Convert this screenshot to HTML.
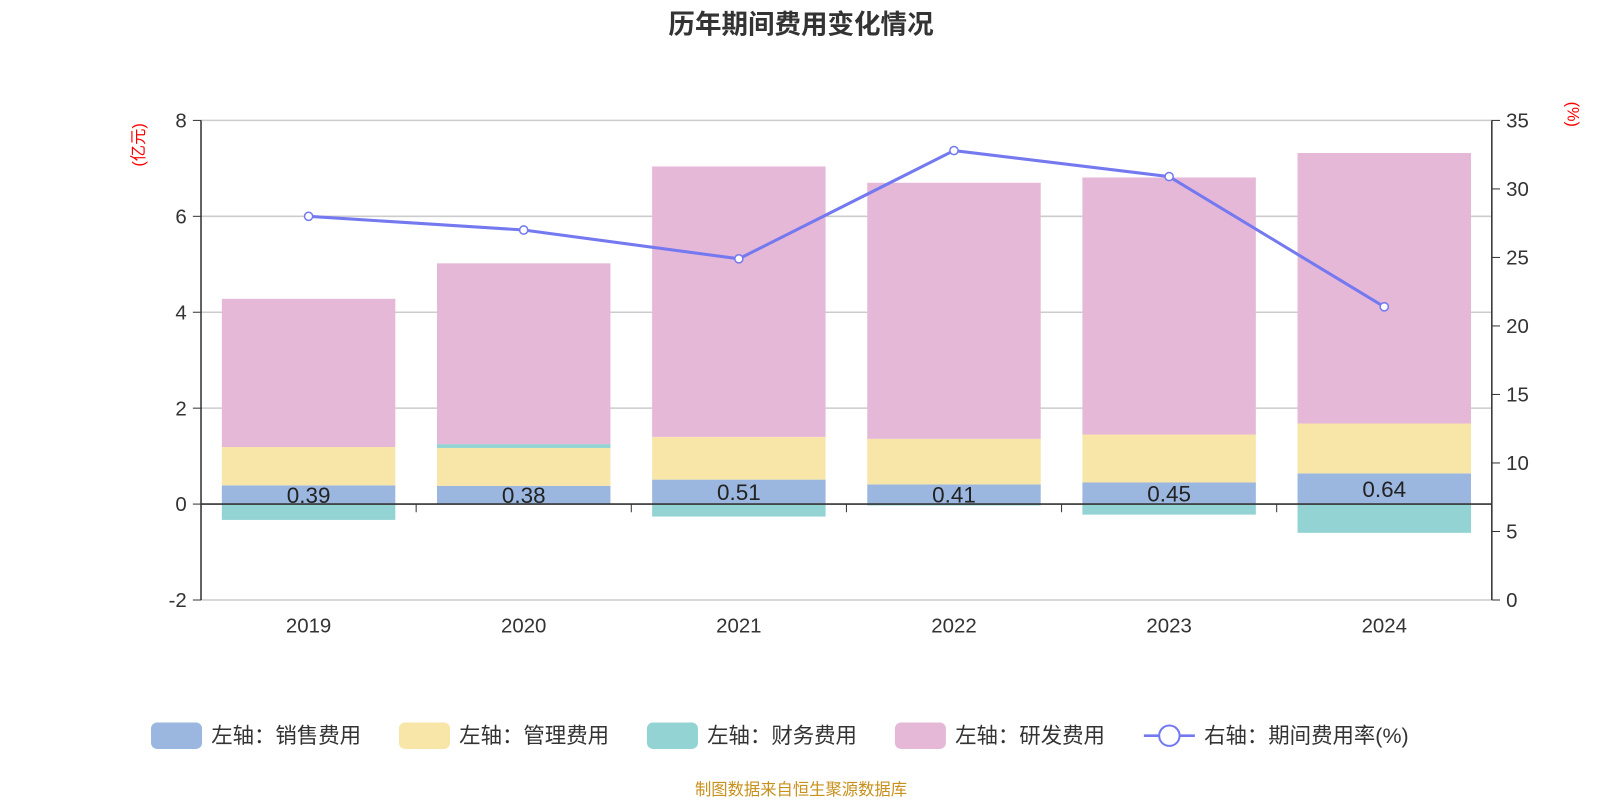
<!DOCTYPE html>
<html><head><meta charset="utf-8"><style>
body{margin:0;background:#fff;font-family:"Liberation Sans","Noto Sans CJK SC",sans-serif}
</style></head><body>
<svg id="c" width="1600" height="800" xmlns="http://www.w3.org/2000/svg" font-family="Liberation Sans, Noto Sans CJK SC, sans-serif"><g id="g" transform="scale(1.0204)"></g></svg>
<script>
const categories=["2019","2020","2021","2022","2023","2024"];
const sales=[0.39,0.38,0.51,0.41,0.45,0.64];
const mgmt=[0.80,0.79,0.89,0.95,1.00,1.04];
const fin=[-0.33,0.08,-0.26,-0.03,-0.22,-0.60];
const rd=[3.09,3.77,5.64,5.34,5.36,5.64];
const rate=[28.0,27.0,24.9,32.8,30.9,21.4];
const leftTicks=[-2,0,2,4,6,8];
const rightTicks=[0,5,10,15,20,25,30,35];
const NS="http://www.w3.org/2000/svg";
const svg=document.getElementById('g');
const X0=197,X1=1462,YT=118,YB=588;
const yL=v=>494-(v)*47;
const yR=v=>YB-(v/35)*(YB-YT);
const bw=(X1-X0)/categories.length;
const xC=i=>X0+bw*(i+0.5);
function el(t,a,txt){const e=document.createElementNS(NS,t);for(const k in a)e.setAttribute(k,a[k]);if(txt!==undefined)e.textContent=txt;svg.appendChild(e);return e;}
let e;
e=el('text',{x:785,y:33,'text-anchor':'middle','font-size':26,'font-weight':'bold',fill:'#333'},'历年期间费用变化情况');

leftTicks.forEach(t=>{
 if(t!==0){e=el('line',{x1:X0,x2:X1,y1:yL(t),y2:yL(t),stroke:'#ccc','stroke-width':1.5});
 }
 e=el('line',{x1:X0-8,x2:X0,y1:yL(t),y2:yL(t),stroke:'#333'});
 
 e=el('text',{x:X0-14,y:yL(t)+7,'text-anchor':'end','font-size':20,fill:'#333'},String(t));
 
});
rightTicks.forEach(t=>{
 e=el('line',{x1:X1,x2:X1+8,y1:yR(t),y2:yR(t),stroke:'#333'});
 
 e=el('text',{x:X1+14,y:yR(t)+7,'font-size':20,fill:'#333'},String(t));
 
});
e=el('line',{x1:X0,x2:X0,y1:YT,y2:YB,stroke:'#333','stroke-width':1.5});
e=el('line',{x1:X1,x2:X1,y1:YT,y2:YB,stroke:'#333','stroke-width':1.5});
e=el('text',{x:0,y:0,'font-size':16,fill:'red',transform:'translate(141,142) rotate(-90)','text-anchor':'middle'},'(亿元)');

e=el('text',{x:0,y:0,'font-size':16,fill:'red',transform:'translate(1536,112) rotate(90)','text-anchor':'middle'},'(%)');

const series=[[sales,'#9bb7e0','sales'],[mgmt,'#f7e6a8','mgmt'],[fin,'#94d3d4','finance'],[rd,'#e6b8d8','rd']];
const bwid=170;
categories.forEach((c,i)=>{
 let pos=0,neg=0;
 series.forEach(([arr,col,nm])=>{
  const v=arr[i];let a,b;
  if(v>=0){a=pos;b=pos+v;pos=b;}else{a=neg;b=neg+v;neg=b;}
  const y1=yL(Math.max(a,b)),y2=yL(Math.min(a,b));
  e=el('rect',{x:xC(i)-bwid/2,y:y1,width:bwid,height:y2-y1,fill:col});
  
 });
 e=el('text',{x:xC(i),y:yL(sales[i]/2)+8,'text-anchor':'middle','font-size':22,fill:'#222'},sales[i].toFixed(2));
 
 e=el('text',{x:xC(i),y:620,'text-anchor':'middle','font-size':20,fill:'#333'},c);
 
});
e=el('line',{x1:X0,x2:X1,y1:yL(0),y2:yL(0),stroke:'#333','stroke-width':1.5});
for(let i=0;i<=categories.length;i++){e=el('line',{x1:X0+bw*i,x2:X0+bw*i,y1:yL(0),y2:yL(0)+8,stroke:'#333'});
 }
e=el('polyline',{points:rate.map((v,i)=>xC(i)+','+yR(v)).join(' '),fill:'none',stroke:'#7479f0','stroke-width':3});

rate.forEach((v,i)=>{e=el('circle',{cx:xC(i),cy:yR(v),r:4,fill:'#fff',stroke:'#7479f0','stroke-width':1.5});
 });
const legend=[['#9bb7e0','左轴：销售费用',148],['#f7e6a8','左轴：管理费用',391],['#94d3d4','左轴：财务费用',634],['#e6b8d8','左轴：研发费用',877]];
legend.forEach(([col,t,x])=>{
 e=el('rect',{x:x,y:708,width:50,height:26,rx:6,fill:col});
 e=el('text',{x:x+59,y:728,'font-size':21,fill:'#333'},t);
});
e=el('line',{x1:1121,x2:1171,y1:721,y2:721,stroke:'#7479f0','stroke-width':2.5});
e=el('circle',{cx:1146,cy:721,r:10,fill:'#fff',stroke:'#7479f0','stroke-width':2});
e=el('text',{x:1180,y:728,'font-size':21,fill:'#333'},'右轴：期间费用率(%)');
e=el('text',{x:785,y:779,'text-anchor':'middle','font-size':16,fill:'#c8901c'},'制图数据来自恒生聚源数据库');

</script>
</body></html>
